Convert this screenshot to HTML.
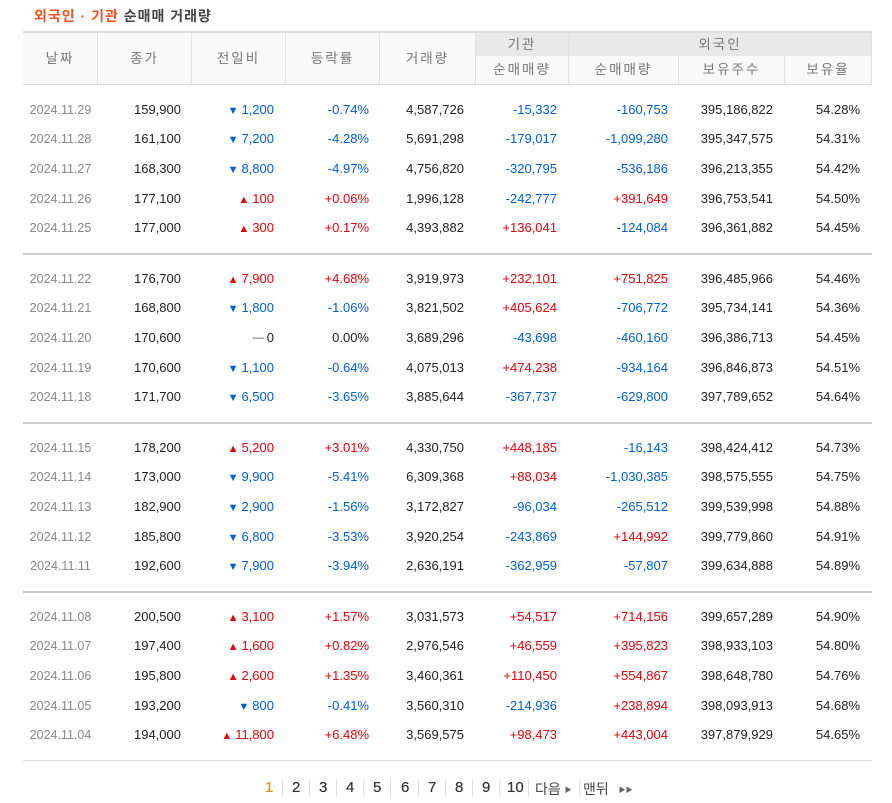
<!DOCTYPE html>
<html><head><meta charset="utf-8">
<style>
body{margin:0;width:892px;height:803px;background:#fff;position:relative;font-family:"Liberation Sans","Noto Sans CJK KR",sans-serif;overflow:hidden}
.title{position:absolute;left:34px;top:6px;font-size:14px;font-weight:bold;color:#444;letter-spacing:1px}
.title span{color:#f4511e}
.hdr{position:absolute;background:#f9f9f9;border-right:1px solid #e2e2e2;color:#777;font-size:13.5px;text-align:center;letter-spacing:2px;box-sizing:border-box}
.hdr.g{background:#e9e9e9}
.topline{position:absolute;left:23px;width:849px;top:31px;height:2px;background:#ddd}
.line{position:absolute;left:23px;width:849px;height:1px;background:#ddd}
.cell{position:absolute;font-size:13px;text-align:right;white-space:nowrap;line-height:16px}
.up{color:#e6000a}.dn{color:#005ed6}.bk{color:#222}.dt{color:#888;font-size:12.5px;text-align:center}
.tri{font-size:11px;margin-right:3px;position:relative;top:0px}
.pg{position:absolute;top:779px;font-size:15px;color:#333;text-shadow:0 0 0.4px #333}
.sep{position:absolute;top:780px;width:1px;height:16px;background:#ddd}
</style></head><body>
<div class="title"><span>외국인 · 기관</span> 순매매 거래량</div>
<div class="topline"></div>
<div id="hdrs"></div>
<div id="rows"></div>
<div id="pager"></div>
<script>
const dates=["2024.11.29","2024.11.28","2024.11.27","2024.11.26","2024.11.25","2024.11.22","2024.11.21","2024.11.20","2024.11.19","2024.11.18","2024.11.15","2024.11.14","2024.11.13","2024.11.12","2024.11.11","2024.11.08","2024.11.07","2024.11.06","2024.11.05","2024.11.04"];
const closes=["159,900","161,100","168,300","177,100","177,000","176,700","168,800","170,600","170,600","171,700","178,200","173,000","182,900","185,800","192,600","200,500","197,400","195,800","193,200","194,000"];
const changes=["-1,200","-7,200","-8,800","+100","+300","+7,900","-1,800","0","-1,100","-6,500","+5,200","-9,900","-2,900","-6,800","-7,900","+3,100","+1,600","+2,600","-800","+11,800"];
const rates=["-0.74%","-4.28%","-4.97%","+0.06%","+0.17%","+4.68%","-1.06%","0.00%","-0.64%","-3.65%","+3.01%","-5.41%","-1.56%","-3.53%","-3.94%","+1.57%","+0.82%","+1.35%","-0.41%","+6.48%"];
const volumes=["4,587,726","5,691,298","4,756,820","1,996,128","4,393,882","3,919,973","3,821,502","3,689,296","4,075,013","3,885,644","4,330,750","6,309,368","3,172,827","3,920,254","2,636,191","3,031,573","2,976,546","3,460,361","3,560,310","3,569,575"];
const instNet=["-15,332","-179,017","-320,795","-242,777","+136,041","+232,101","+405,624","-43,698","+474,238","-367,737","+448,185","+88,034","-96,034","-243,869","-362,959","+54,517","+46,559","+110,450","-214,936","+98,473"];
const forNet=["-160,753","-1,099,280","-536,186","+391,649","-124,084","+751,825","-706,772","-460,160","-934,164","-629,800","-16,143","-1,030,385","-265,512","+144,992","-57,807","+714,156","+395,823","+554,867","+238,894","+443,004"];
const holdings=["395,186,822","395,347,575","396,213,355","396,753,541","396,361,882","396,485,966","395,734,141","396,386,713","396,846,873","397,789,652","398,424,412","398,575,555","399,539,998","399,779,860","399,634,888","399,657,289","398,933,103","398,648,780","398,093,913","397,879,929"];
const ratios=["54.28%","54.31%","54.42%","54.50%","54.45%","54.46%","54.36%","54.45%","54.51%","54.64%","54.73%","54.75%","54.88%","54.91%","54.89%","54.90%","54.80%","54.76%","54.68%","54.65%"];

const H=document.getElementById('hdrs');
function hdr(name,txt,x,y,w,h,g){const d=document.createElement('div');d.className='hdr'+(g?' g':'');


d.style.cssText=`left:${x}px;top:${y}px;width:${w}px;height:${h}px;line-height:${h}px`;d.textContent=txt;H.appendChild(d);}
hdr('header-date','날짜',23,33,75,51);hdr('header-close','종가',98,33,94,51);hdr('header-change','전일비',192,33,94,51);
hdr('header-rate','등락률',286,33,94,51);hdr('header-volume','거래량',380,33,96,51);
hdr('header-institution','기관',476,33,93,23,1);hdr('header-foreign','외국인',569,33,303,23,1);
hdr('header-inst-net','순매매량',476,56,93,28);hdr('header-for-net','순매매량',569,56,110,28);
hdr('header-holdings','보유주수',679,56,106,28);hdr('header-ratio','보유율',785,56,87,28);
const l0=document.createElement('div');l0.className='line';l0.style.top='84px';


H.appendChild(l0);

const R=document.getElementById('rows');
function cls(v){return v.startsWith('+')?'up':v.startsWith('-')?'dn':'bk';}
function cell(name,txt,right,y,c,html){const d=document.createElement('div');d.className='cell '+c;


d.style.top=(y-8)+'px';d.style.right=(892-right)+'px';
if(html)d.innerHTML=txt;else d.textContent=txt;R.appendChild(d);}
for(let i=0;i<dates.length;i++){
  const g=Math.floor(i/5),k=i%5;
  const y=84+g*169+11+k*29.6+14.8;
  const dd=document.createElement('div');dd.className='cell dt';
  
  
  dd.style.cssText=`left:23px;width:75px;top:${y-8}px`;dd.textContent=dates[i];R.appendChild(dd);
  cell('row-close',closes[i],181,y,'bk');
  const ch=changes[i],c=cls(ch);
  const sym=c==='up'?'▲':c==='dn'?'▼':'<span style="color:#999;font-weight:bold">━</span>';
  cell('row-change','<span class="tri">'+sym+'</span>'+ch.replace(/^[+-]/,''),274,y,c,true);
  cell('row-rate',rates[i],369,y,cls(rates[i]));
  cell('row-volume',volumes[i],464,y,'bk');
  cell('row-inst-net',instNet[i],557,y,cls(instNet[i]));
  cell('row-foreign-net',forNet[i],668,y,cls(forNet[i]));
  cell('row-holdings',holdings[i],773,y,'bk');
  cell('row-ratio',ratios[i],860,y,'bk');
  if(k===4){const l=document.createElement('div');l.className='line';l.style.top=(84+(g+1)*169)+'px';
  
  
  l.style.background=g===3?'#ddd':'#ccc';l.style.height=g===3?'1px':'2px';R.appendChild(l);}
}
const P=document.getElementById('pager');
const pages=["1","2","3","4","5","6","7","8","9","10"];
const px=[265,292,319,346,373,401,428,455,482,507];
pages.forEach((p,i)=>{const a=document.createElement('div');a.className='pg';a.textContent=p;


a.style.left=px[i]+'px';if(i===0){a.style.color='#f08a00';a.style.textShadow='0 0 0.4px #f08a00';}P.appendChild(a);
const s=document.createElement('div');s.className='sep';s.style.left=(px[i]+(i===9?21:17))+'px';


P.appendChild(s);});
const nx=document.createElement('div');nx.className='pg';nx.style.cssText='left:535px;font-size:14px;text-shadow:none;color:#444';nx.innerHTML='다음 <span style="font-size:7px;color:#666;position:relative;top:-2px">▶</span>';


P.appendChild(nx);
const s2=document.createElement('div');s2.className='sep';s2.style.left='579px';


P.appendChild(s2);
const ls=document.createElement('div');ls.className='pg';ls.style.cssText='left:583px;font-size:14px;text-shadow:none;color:#444';ls.innerHTML='맨뒤 <span style="font-size:7px;color:#666;position:relative;top:-2px;margin-left:6px">▶▶</span>';


P.appendChild(ls);
</script>
</body></html>
